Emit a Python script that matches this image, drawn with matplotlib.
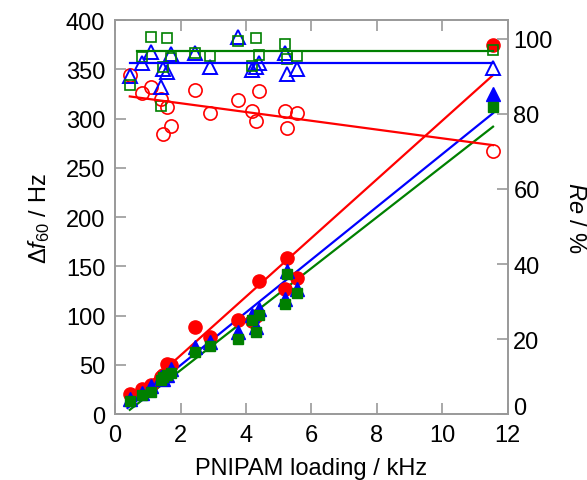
import numpy as np
import matplotlib.pyplot as plt
import matplotlib.transforms as mtransforms

plt.rcParams['font.family'] = ['Liberation Sans', 'DejaVu Sans']
plt.rcParams['mathtext.fontset'] = 'custom'
plt.rcParams['mathtext.rm'] = 'Liberation Sans'
plt.rcParams['mathtext.it'] = 'Liberation Sans:italic'

# PNIPAM loading (kHz), shared by all series
loading = [0.45, 0.81, 1.11, 1.40, 1.45, 1.58, 1.70, 2.45, 2.90, 3.77,
           4.20, 4.30, 4.41, 5.20, 5.26, 5.55, 11.55]

# Delta f60 (Hz), filled markers, left axis
df_red = [20, 25, 30, 38, 40, 51, 50, 88, 78, 96, 95, 100, 135, 127, 159, 138, 375]
df_blue = [15, 21, 29, 38, 36, 40, 46, 68, 73, 83, 101, 88, 107, 117, 145, 127, 325]
df_green = [13, 19, 22, 35, 38, 40, 42, 63, 69, 76, 96, 83, 101, 112, 142, 123, 312]

# Re (%), open markers, right axis
re_red = [90.5, 85.5, 87.1, 84.0, 74.7, 81.8, 76.9, 86.4, 80.3, 83.6,
          80.7, 78.2, 86.0, 80.9, 76.3, 80.2, 70.0]
re_blue = [90.2, 93.5, 96.6, 87.3, 92.0, 91.1, 96.0, 96.2, 92.4, 100.6,
           91.6, 92.4, 93.5, 96.2, 90.7, 92.0, 92.2]
re_green = [87.7, 95.3, 100.6, 82.2, 92.6, 100.2, 94.8, 96.2, 95.4, 99.5,
            92.9, 100.3, 95.6, 98.7, 94.7, 95.4, 97.1]

# fitted lines: (slope, intercept, x start, x end)
fit_df = {'red': (29.8, 0.0, 0.38, 11.55),
          'blue': (26.8, -4.0, 0.38, 11.55),
          'green': (25.9, -7.3, 0.45, 11.55)}
fit_re = {'red': (-1.17, 85.2, 0.45, 11.55),
          'blue': (0.0, 93.5, 0.45, 11.55),
          'green': (0.0, 96.9, 0.67, 11.55)}

colors = {'red': '#ff0000', 'blue': '#0000ff', 'green': '#008000'}
gray = '#999999'

fig = plt.figure(figsize=(5.87, 4.81), dpi=100)
ax = fig.add_axes([0.196, 0.137, 0.669, 0.819])
ax2 = ax.twinx()

# filled markers on left axis
ax.plot(loading, df_red, 'o', color=colors['red'], ms=9.5, zorder=3)
ax.plot(loading, df_blue, '^', color=colors['blue'], ms=9.5, zorder=4)
ax.plot(loading, df_green, 's', color=colors['green'], ms=7, zorder=5)
for name, (m, b, x0, x1) in fit_df.items():
    xs = np.array([x0, x1])
    ax.plot(xs, m * xs + b, '-', color=colors[name], lw=1.6, zorder=2)

# open markers on right axis
ax2.plot(loading, re_red, 'o', mfc='none', mec=colors['red'], mew=1.2, ms=9.5)
ax2.plot(loading, re_blue, '^', mfc='none', mec=colors['blue'], mew=1.4, ms=10)
ax2.plot(loading, re_green, 's', mfc='none', mec=colors['green'], mew=1.2, ms=7)
for name, (m, b, x0, x1) in fit_re.items():
    xs = np.array([x0, x1])
    ax2.plot(xs, m * xs + b, '-', color=colors[name], lw=1.6)

ax.set_xlim(0, 12)
ax.set_ylim(0, 400)
ax2.set_ylim(0, 105)
ax.set_xticks(range(0, 13, 2))
ax.set_yticks(range(0, 401, 50))
ax2.set_yticks(range(0, 101, 20))

for a in (ax, ax2):
    for s in a.spines.values():
        s.set_color(gray)
        s.set_linewidth(1.2)
ax.tick_params(axis='both', direction='in', length=8, width=1.2, color=gray,
               labelsize=17, top=True, pad=7)
ax2.tick_params(axis='y', direction='in', length=8, width=1.2, color=gray,
                labelsize=17, pad=4)

ax.set_xlabel('PNIPAM loading / kHz', fontsize=17, labelpad=8)
ax.set_ylabel(r'$\Delta\mathit{f}_{60}$ / Hz', fontsize=17, labelpad=10)
ax2.set_ylabel(r'$\mathit{Re}$ / %', fontsize=17, rotation=270, labelpad=24)

# lift the right-hand "0" a little so it sits above the "12"
fig.canvas.draw()
zero_lbl = ax2.get_yticklabels()[0]
zero_lbl.set_transform(zero_lbl.get_transform() +
                       mtransforms.ScaledTranslation(0, 6 / 72, fig.dpi_scale_trans))

fig.savefig('out.png', dpi=100)
